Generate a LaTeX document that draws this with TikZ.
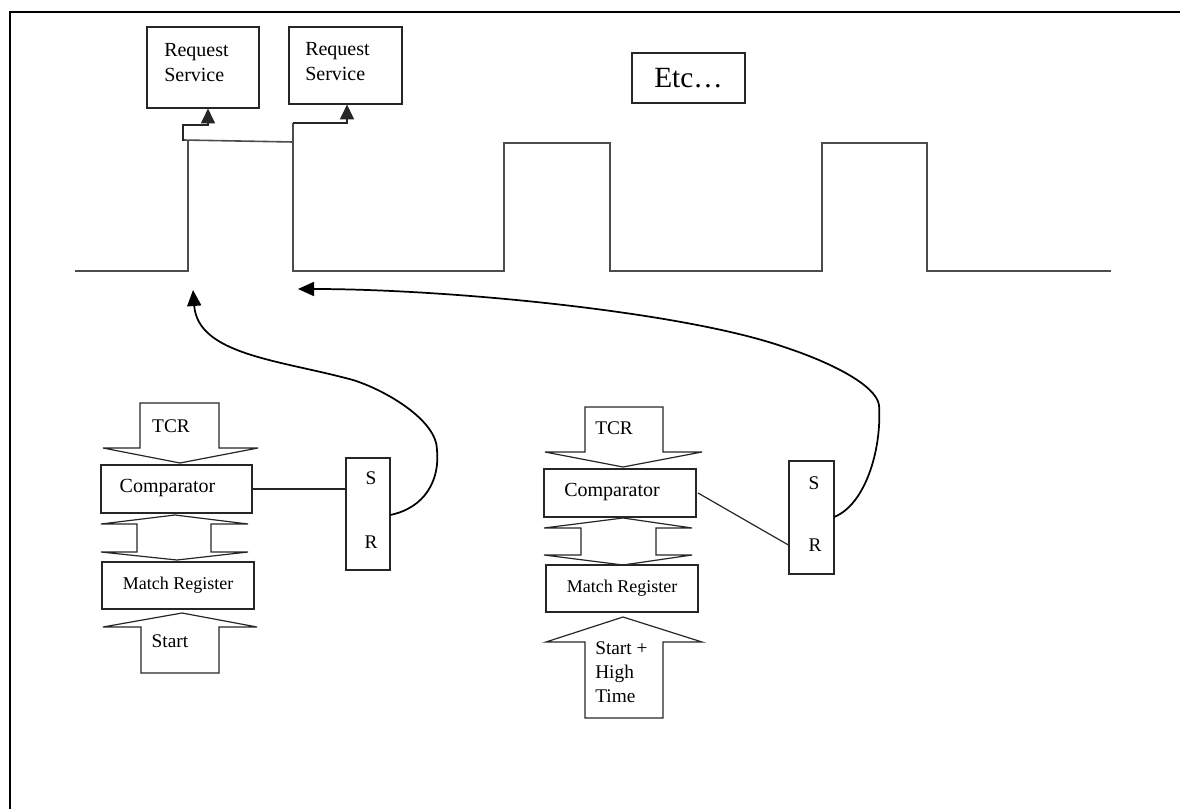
\documentclass[tikz,border=0pt]{standalone}
\usepackage{fontspec}
\setmainfont{Liberation Serif}
\usetikzlibrary{arrows.meta}
\begin{document}
\begin{tikzpicture}[x=0.75pt,y=-0.75pt,
  box/.style={draw=black!85, line width=0.9pt},
  wave/.style={draw=black!70, line width=1.2pt, line join=miter},
  blk/.style={draw=black!85, line width=0.9pt, line join=miter},
  lbl/.style={inner sep=0pt, font=\fontsize{14.5}{17.5}\selectfont},
  smallhead/.style={-{Triangle[length=11pt,width=10.5pt]}},
  curv/.style={draw=black, line width=1.3pt, -{Triangle[length=12pt,width=10.5pt]}},
]
\useasboundingbox (0,0) rectangle (1180,809);
% frame
\draw[line width=1.6pt] (10,809) -- (10,12) -- (1180,12);

% request service boxes
\node[box, minimum width=84pt, minimum height=60.75pt] (rs1) at (203,67.5) {};
\node[lbl, anchor=west, align=left, font=\fontsize{15}{18.75}\selectfont] (rs1t) at (164,63) {Request\\Service};
\node[box, minimum width=84.75pt, minimum height=57.75pt] (rs2) at (345.5,65.5) {};
\node[lbl, anchor=west, align=left, font=\fontsize{15}{18.75}\selectfont] (rs2t) at (305,61.5) {Request\\Service};

% etc box
\node[box, minimum width=84.75pt, minimum height=37.5pt, font=\fontsize{22}{26}\selectfont] (etc) at (688.5,78) {Etc…};

% waveform
\coordinate (w0) at (75,271);
\coordinate (w1) at (1111,271);
\draw[wave] (w0) -- (188,271) -- (188,141);
\draw[wave] (183,140) -- (293,142);
\draw[wave] (293,123) -- (293,271) -- (504,271) -- (504,143) -- (610,143) -- (610,271)
  -- (822,271) -- (822,143) -- (927,143) -- (927,271) -- (w1);
\coordinate (b1) at (183,141);
\coordinate (b2) at (293,123);
\draw[box, smallhead] (b1) -- (183,125) -- (208,125) -- (208,0 |- rs1.south);
\draw[box, smallhead] (b2) -- (347,123) -- (347,0 |- rs2.south);

% ---------- block 1 ----------
\draw[blk] (140,403) -- (219,403) -- (219,448) -- (258,448) -- (180,463) -- (103,448) -- (140,448) -- cycle;
\node[lbl] (tcr1) at (171,426) {TCR};
\node[box, minimum width=113.25pt, minimum height=36pt] (comp1) at (176.5,489) {};
\node[lbl, font=\fontsize{15}{18}\selectfont] (comp1t) at (167.5,488) {Comparator};
\draw[blk] (175,515) -- (248,524) -- (211,524) -- (211,552) -- (248,552) -- (177,560) -- (101,552) -- (137,552) -- (137,524) -- (101,524) -- cycle;
\node[box, minimum width=114pt, minimum height=35.25pt, font=\fontsize{13.5}{16}\selectfont] (mr1) at (178,585.5) {Match Register};
\draw[blk] (182,613) -- (257,627) -- (219,627) -- (219,673) -- (141,673) -- (141,627) -- (103,627) -- cycle;
\node[lbl] (st1) at (170,641) {Start};
\node[box, minimum width=33pt, minimum height=84pt] (sr1) at (368,514) {};
\node[lbl] (s1) at (371,478) {S};
\node[lbl] (r1) at (371,542) {R};
\draw[box] (comp1.east) -- (sr1.west |- comp1.east);

% ---------- block 2 ----------
\draw[blk] (585,407) -- (663,407) -- (663,452) -- (702,452) -- (623,467) -- (545,452) -- (585,452) -- cycle;
\node[lbl, anchor=west] (tcr2) at (595,428) {TCR};
\node[box, minimum width=114pt, minimum height=36pt] (comp2) at (620,493) {};
\node[lbl, anchor=west, font=\fontsize{15}{18}\selectfont] (comp2t) at (564,492) {Comparator};
\draw[blk] (623,518) -- (692,528) -- (656,528) -- (656,555) -- (692,555) -- (623,565) -- (544,555) -- (581,555) -- (581,528) -- (544,528) -- cycle;
\node[box, minimum width=114pt, minimum height=35.25pt, font=\fontsize{13.5}{16}\selectfont] (mr2) at (622,588.5) {Match Register};
\draw[blk] (623,617) -- (702,642) -- (663,642) -- (663,718) -- (585,718) -- (585,642) -- (546,642) -- cycle;
\node[lbl, anchor=west, align=left, font=\fontsize{14.5}{18}\selectfont] (st2) at (595,672) {Start +\\High\\Time};
\node[box, minimum width=33.75pt, minimum height=84.75pt] (sr2) at (811.5,517.5) {};
\node[lbl] (s2) at (814,483) {S};
\node[lbl] (r2) at (815,545) {R};
\coordinate (c2e) at (698,493);
\draw[box] (c2e) -- (sr2.west |- r2);

% curved connectors
\coordinate (a1) at (193,290);
\coordinate (a2) at (298,289);
\coordinate (q1) at (390,515);
\coordinate (q2) at (834,517);
\draw[curv] (q1) .. controls (425,508) and (440,480) .. (437,450)
  .. controls (437,420) and (385,390) .. (353,380)
  .. controls (280,360) and (198,355) .. (a1);
\draw[curv] (q2) .. controls (865,505) and (882,450) .. (879,405)
  .. controls (876,385) and (830,362) .. (784,347)
  .. controls (684,312) and (450,289) .. (a2);
\end{tikzpicture}
\end{document}
